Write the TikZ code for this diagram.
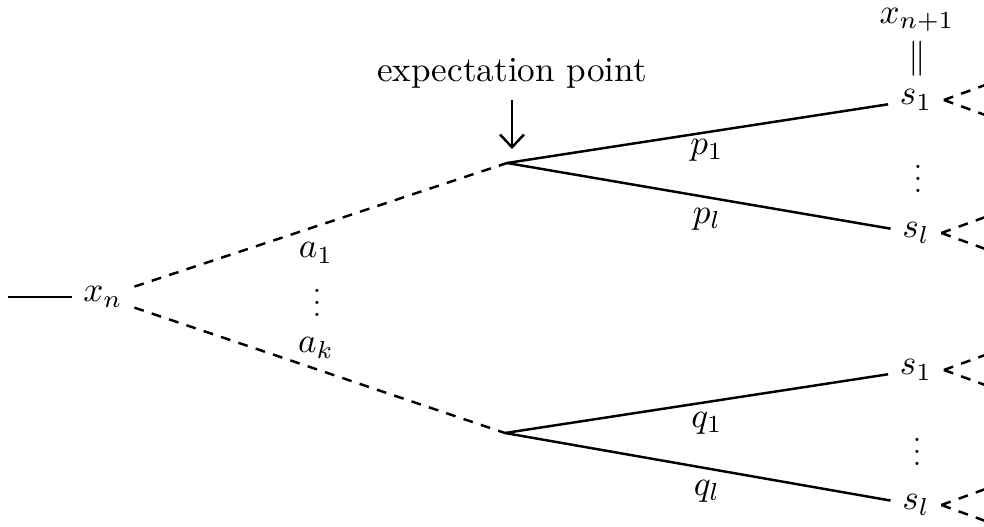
\documentclass[tikz,border=0pt]{standalone}
\usepackage{amsmath, amssymb}
\usepackage{tikz}
\usetikzlibrary{arrows.meta}

\begin{document}
\begin{tikzpicture}[x=0.01cm, y=-0.01cm, line width=0.7pt,
    dsh/.style={dash pattern=on 2.8pt off 2.4pt},
    lbl/.style={inner sep=3pt},
    vd/.style={inner sep=0pt, scale=0.85}]
  \useasboundingbox (0,0) rectangle (984,527);
  % decision node and its actions
  \coordinate (in) at (8,297);
  \node[lbl] (xn) at (103,297) {$x_n$};
  \coordinate (e1) at (507,163);
  \coordinate (e2) at (505,433);
  \draw (in) -- (xn);
  \draw[dsh] (xn) -- (e1);
  \draw[dsh] (xn) -- (e2);
  \node[lbl] (a1) at (316,253) {$a_1$};
  \node[vd] (ad) at (317,294) {$\vdots$};
  \node[lbl] (ak) at (316,348) {$a_k$};
  % expectation point marker
  \node[lbl, anchor=south] (ept) at (512,100) {expectation point};
  \coordinate (etip) at (512,149);
  \draw[-{Straight Barb[length=3.6pt, width=6.8pt]}] (ept.south) -- (etip);
  % successor states
  \node[lbl] (s11) at (916,100) {$s_1$};
  \node[lbl] (s1l) at (916,233) {$s_l$};
  \node[lbl] (s21) at (916,370) {$s_1$};
  \node[lbl] (s2l) at (916,505) {$s_l$};
  \node[vd] (sd1) at (918,170) {$\vdots$};
  \node[vd] (sd2) at (917,443) {$\vdots$};
  \node[lbl] (xn1) at (917,20) {$x_{n+1}$};
  \node[lbl] (eq) at (917,59) {$\Vert$};
  \draw (e1) -- (s11);
  \draw (e1) -- (s1l);
  \draw (e2) -- (s21);
  \draw (e2) -- (s2l);
  \node[lbl] (p1) at (707,150) {$p_1$};
  \node[lbl] (pl) at (707,219) {$p_l$};
  \node[lbl] (q1) at (707,423) {$q_1$};
  \node[lbl] (ql) at (707,491) {$q_l$};
  % next decisions, cut off at the edge
  \foreach \s in {s11, s1l, s21, s2l} {
    \coordinate (\s u) at ([xshift=44, yshift=-16]\s.east);
    \coordinate (\s d) at ([xshift=44, yshift=16]\s.east);
    \draw[dsh] (\s.east) -- (\s u);
    \draw[dsh] (\s.east) -- (\s d);
  }
\end{tikzpicture}
\end{document}
